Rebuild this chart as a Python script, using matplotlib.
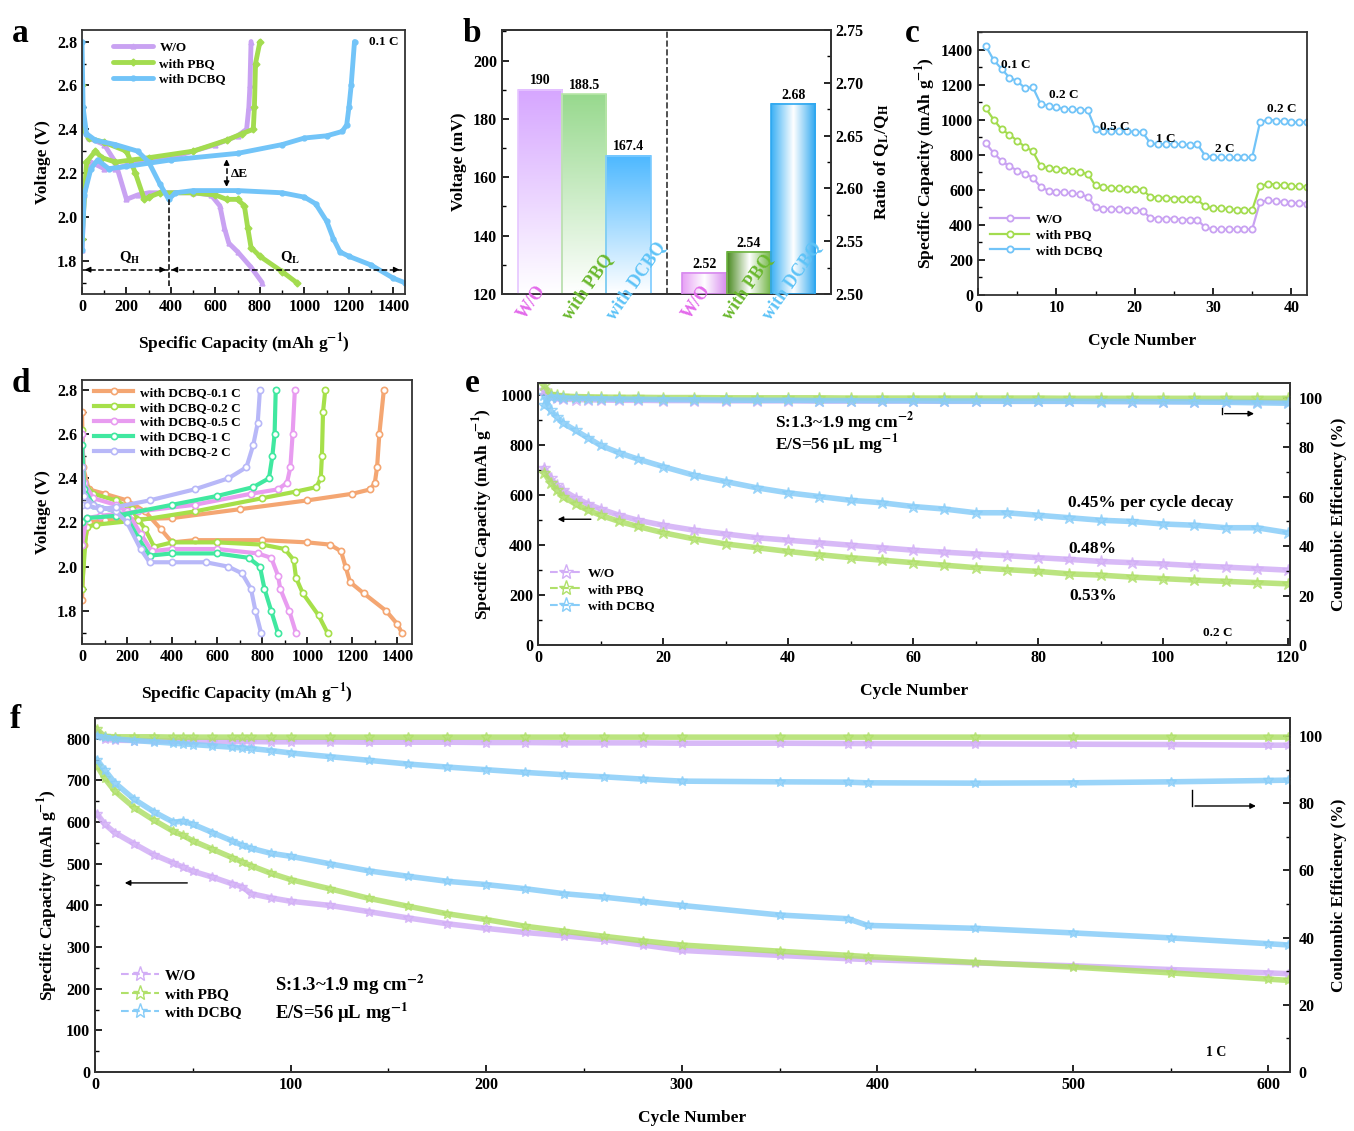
import numpy as np
import matplotlib.pyplot as plt
from matplotlib.ticker import MultipleLocator
from matplotlib.colors import LinearSegmentedColormap
from matplotlib.lines import Line2D
import matplotlib.transforms as mtransforms

plt.rcParams['font.family'] = ['Liberation Serif', 'DejaVu Serif']
plt.rcParams['font.weight'] = 'bold'
plt.rcParams['axes.labelweight'] = 'bold'
plt.rcParams['mathtext.fontset'] = 'stix'
plt.rcParams['axes.linewidth'] = 1.3
plt.rcParams['axes.edgecolor'] = '#333333'

# colores
PUR = '#C9A2F2'
GRN = '#A3DC4F'
BLU = '#72C4F8'

# ---------------- datos panel a (capacidad mAh/g, voltaje V) ----------------
a_wo_dis_x = [0, 30, 100, 150, 200, 250, 300, 400, 500, 580, 620, 640, 660, 700, 760, 810]
a_wo_dis_v = [2.42, 2.36, 2.33, 2.25, 2.08, 2.10, 2.11, 2.11, 2.11, 2.10, 2.05, 1.95, 1.88, 1.84, 1.77, 1.70]
a_wo_chg_x = [0, 10, 40, 100, 150, 250, 400, 600, 700, 740, 750, 755, 760]
a_wo_chg_v = [1.85, 2.10, 2.25, 2.22, 2.22, 2.25, 2.27, 2.33, 2.37, 2.40, 2.50, 2.60, 2.80]
a_pbq_dis_x = [0, 5, 30, 100, 200, 240, 280, 300, 350, 500, 600, 650, 700, 730, 745, 760, 800, 900, 965]
a_pbq_dis_v = [2.60, 2.40, 2.36, 2.34, 2.30, 2.20, 2.08, 2.09, 2.11, 2.11, 2.10, 2.08, 2.08, 2.05, 1.95, 1.86, 1.82, 1.75, 1.70]
a_pbq_chg_x = [0, 20, 60, 90, 150, 300, 500, 650, 720, 770, 775, 780, 800]
a_pbq_chg_v = [1.90, 2.25, 2.30, 2.27, 2.25, 2.27, 2.30, 2.35, 2.38, 2.40, 2.50, 2.70, 2.80]
a_dcbq_dis_x = [0, 5, 20, 60, 150, 250, 300, 350, 390, 420, 500, 700, 900, 1000, 1050, 1100, 1130, 1160, 1200, 1300, 1400, 1450]
a_dcbq_dis_v = [2.80, 2.50, 2.38, 2.35, 2.33, 2.30, 2.25, 2.15, 2.08, 2.11, 2.12, 2.12, 2.11, 2.09, 2.06, 1.98, 1.90, 1.84, 1.82, 1.78, 1.72, 1.70]
a_dcbq_chg_x = [0, 10, 40, 70, 120, 200, 400, 700, 900, 1000, 1100, 1170, 1190, 1200, 1210, 1225]
a_dcbq_chg_v = [1.85, 2.10, 2.22, 2.26, 2.22, 2.23, 2.26, 2.29, 2.33, 2.36, 2.37, 2.39, 2.42, 2.50, 2.60, 2.80]

# ---------------- datos panel b ----------------
b_labels = ['W/O', 'with PBQ', 'with DCBQ']
b_dE = [190, 188.5, 167.4]
b_ratio = [2.52, 2.54, 2.68]
b_label_colors = ['#E36BEB', '#6AB82E', '#5EC3F7']

# ---------------- datos panel c (capacidad de tasa) ----------------
c_cycle = list(range(1, 43))
c_dcbq = [1420, 1340, 1290, 1240, 1220, 1180, 1185, 1090, 1080, 1070, 1060, 1060, 1055, 1055,
          945, 935, 935, 935, 935, 930, 930, 865, 860, 860, 860, 860, 855, 860,
          795, 785, 785, 785, 785, 785, 785, 985, 1000, 995, 990, 985, 985, 985]
c_pbq = [1065, 1000, 945, 915, 880, 845, 820, 735, 725, 720, 715, 710, 700, 690,
         625, 615, 610, 610, 605, 605, 600, 560, 555, 555, 550, 550, 545, 545,
         505, 495, 495, 490, 485, 485, 485, 620, 635, 630, 625, 620, 620, 615]
c_wo = [865, 810, 765, 735, 710, 690, 670, 615, 595, 590, 585, 580, 575, 560,
        500, 490, 490, 490, 485, 485, 480, 440, 435, 435, 435, 430, 430, 430,
        385, 375, 375, 375, 375, 375, 375, 530, 540, 535, 530, 525, 525, 520]
c_rates = ['0.1 C', '0.2 C', '0.5 C', '1 C', '2 C', '0.2 C']
c_rate_x = [4.8, 11.0, 17.5, 24.0, 31.5, 38.8]
c_rate_y = [1310, 1140, 960, 890, 830, 1060]

# ---------------- datos panel d (DCBQ a distintas tasas) ----------------
d_rates = ['with DCBQ-0.1 C', 'with DCBQ-0.2 C', 'with DCBQ-0.5 C', 'with DCBQ-1 C', 'with DCBQ-2 C']
d_colors = ['#F4A672', '#A6E04A', '#E89CF0', '#40E8A0', '#B8B8F8']
d_dis_x = [
    [0, 5, 30, 100, 200, 280, 350, 400, 500, 800, 1000, 1100, 1150, 1170, 1190, 1250, 1350, 1400, 1420],
    [0, 10, 50, 150, 220, 280, 320, 400, 600, 800, 900, 940, 950, 980, 1050, 1090],
    [0, 10, 50, 150, 200, 260, 310, 400, 600, 780, 840, 870, 880, 920, 950],
    [0, 10, 50, 150, 200, 250, 300, 400, 600, 740, 790, 810, 840, 870],
    [0, 10, 50, 150, 200, 260, 300, 400, 550, 650, 710, 750, 770, 795],
]
d_dis_v = [
    [2.70, 2.45, 2.35, 2.33, 2.30, 2.25, 2.17, 2.11, 2.12, 2.12, 2.11, 2.10, 2.07, 2.00, 1.93, 1.88, 1.80, 1.74, 1.70],
    [2.62, 2.38, 2.33, 2.30, 2.26, 2.17, 2.09, 2.11, 2.11, 2.10, 2.08, 2.03, 1.95, 1.88, 1.78, 1.70],
    [2.60, 2.38, 2.31, 2.28, 2.25, 2.15, 2.07, 2.08, 2.08, 2.06, 2.04, 1.96, 1.90, 1.80, 1.70],
    [2.55, 2.35, 2.28, 2.25, 2.22, 2.13, 2.05, 2.06, 2.06, 2.04, 2.00, 1.90, 1.80, 1.70],
    [2.45, 2.32, 2.28, 2.25, 2.20, 2.08, 2.02, 2.02, 2.02, 2.00, 1.97, 1.90, 1.80, 1.70],
]
d_chg_x = [
    [0, 10, 30, 100, 400, 700, 1000, 1200, 1280, 1300, 1310, 1320, 1340],
    [0, 20, 60, 250, 500, 800, 950, 1040, 1060, 1065, 1070, 1080],
    [0, 20, 80, 250, 500, 750, 870, 910, 925, 935, 945],
    [0, 20, 150, 400, 600, 760, 830, 845, 855, 860],
    [0, 20, 80, 150, 300, 500, 650, 730, 760, 780, 790],
]
d_chg_v = [
    [1.85, 2.10, 2.20, 2.21, 2.22, 2.26, 2.30, 2.33, 2.35, 2.38, 2.45, 2.60, 2.80],
    [1.90, 2.18, 2.19, 2.21, 2.25, 2.31, 2.34, 2.36, 2.40, 2.50, 2.70, 2.80],
    [2.10, 2.22, 2.23, 2.25, 2.28, 2.33, 2.35, 2.38, 2.45, 2.60, 2.80],
    [2.20, 2.22, 2.23, 2.28, 2.32, 2.36, 2.40, 2.50, 2.60, 2.80],
    [2.28, 2.28, 2.26, 2.27, 2.30, 2.35, 2.40, 2.45, 2.55, 2.65, 2.80],
]

# ---------------- datos panel e (0.2 C, 120 ciclos) ----------------
e_cyc = [1, 2, 3, 4, 6, 8, 10, 13, 16, 20, 25, 30, 35, 40, 45, 50, 55, 60, 65, 70,
         75, 80, 85, 90, 95, 100, 105, 110, 115, 120]
e_cap_dcbq = [1000, 940, 915, 890, 860, 830, 800, 770, 745, 715, 680, 655, 630, 610, 595,
              580, 570, 555, 545, 530, 530, 520, 510, 500, 495, 485, 480, 470, 470, 450]
e_cap_wo = [710, 670, 640, 620, 590, 565, 545, 520, 500, 480, 460, 445, 430, 420, 410,
            400, 390, 380, 372, 365, 358, 350, 343, 335, 330, 325, 318, 312, 306, 300]
e_cap_pbq = [690, 650, 620, 595, 565, 540, 520, 495, 475, 450, 425, 405, 390, 375, 362,
             350, 340, 330, 320, 310, 302, 295, 285, 280, 272, 266, 260, 255, 250, 245]
e_ce_wo = [103, 100.5, 99.8, 99.5, 99.3, 99.2, 99.1, 99.0, 99.0, 98.9, 98.9, 98.8, 98.8, 98.8, 98.7,
           98.7, 98.7, 98.7, 98.6, 98.6, 98.6, 98.6, 98.6, 98.6, 98.5, 98.5, 98.5, 98.5, 98.5, 98.4]
e_ce_pbq = [105, 101.5, 101, 100.7, 100.5, 100.4, 100.3, 100.2, 100.2, 100.1, 100.1, 100.0, 100.0, 100.0, 100.0,
            99.9, 99.9, 99.9, 99.9, 99.9, 99.9, 99.9, 99.8, 99.8, 99.8, 99.8, 99.8, 99.8, 99.8, 99.8]
e_ce_dcbq = [97, 100.5, 100.2, 100.0, 99.8, 99.7, 99.6, 99.5, 99.4, 99.3, 99.2, 99.1, 99.0, 99.0, 98.9,
             98.9, 98.8, 98.8, 98.7, 98.7, 98.6, 98.6, 98.6, 98.5, 98.5, 98.4, 98.3, 98.2, 98.0, 97.8]

# ---------------- datos panel f (1 C, 610 ciclos) ----------------
f_cyc = [1, 5, 10, 20, 30, 40, 45, 50, 60, 70, 75, 80, 90, 100, 120, 140, 160, 180, 200, 220,
         240, 260, 280, 300, 350, 385, 395, 450, 500, 550, 600, 610]
f_cap_wo = [620, 595, 575, 548, 522, 502, 492, 482, 468, 452, 445, 428, 418, 410, 400, 385,
            370, 356, 345, 335, 327, 318, 305, 292, 280, 272, 270, 262, 255, 246, 238, 236]
f_cap_pbq = [735, 705, 675, 635, 605, 578, 568, 555, 535, 515, 505, 495, 477, 462, 440, 417,
             398, 380, 366, 350, 338, 326, 315, 305, 290, 280, 277, 263, 252, 238, 223, 220]
f_cap_dcbq = [750, 725, 695, 655, 625, 600, 602, 595, 575, 555, 545, 537, 525, 518, 500, 483,
              470, 458, 450, 440, 428, 420, 410, 400, 377, 368, 352, 345, 334, 322, 308, 305]
f_ce_wo = [101, 99.0, 98.8, 98.7, 98.6, 98.5, 98.5, 98.5, 98.4, 98.4, 98.4, 98.4, 98.3, 98.3, 98.3, 98.2,
           98.2, 98.2, 98.1, 98.1, 98.0, 98.0, 98.0, 97.9, 97.9, 97.8, 97.8, 97.7, 97.6, 97.5, 97.3, 97.3]
f_ce_pbq = [102, 99.9, 99.8, 99.8, 99.8, 99.7, 99.7, 99.7, 99.7, 99.7, 99.7, 99.7, 99.7, 99.7, 99.7, 99.7,
            99.7, 99.7, 99.7, 99.7, 99.7, 99.7, 99.7, 99.7, 99.7, 99.7, 99.7, 99.7, 99.7, 99.7, 99.7, 99.7]
f_ce_dcbq = [100, 99.6, 99.2, 98.7, 98.3, 97.9, 97.7, 97.5, 97.1, 96.7, 96.5, 96.3, 95.7, 95.0, 93.9, 92.8,
             91.7, 90.8, 90.0, 89.2, 88.5, 87.9, 87.2, 86.6, 86.4, 86.3, 86.1, 86.0, 86.1, 86.4, 86.8, 86.9]

# ---------------- figura ----------------
W, H = 1354, 1131
fig = plt.figure(figsize=(W / 100, H / 100), dpi=100)


def rect(l, t, r, b):
    return [l / W, 1 - b / H, (r - l) / W, (b - t) / H]


def style(ax, left=True, right=False):
    ax.tick_params(direction='in', which='both', top=False, right=right, left=left, labelsize=11.5)
    ax.tick_params(which='major', length=5, width=1.2)
    ax.tick_params(which='minor', length=3, width=1.0)
    for lab in ax.get_xticklabels() + ax.get_yticklabels():
        lab.set_fontweight('bold')


cap_label = 'Specific Capacity (mAh g$^{\\mathbf{-1}}$)'
LFS = 12.5

# ---------- a ----------
ax = fig.add_axes(rect(82, 30, 405, 294))
for xs, vs, xc, vc, col, lab, mk in [
        (a_wo_dis_x, a_wo_dis_v, a_wo_chg_x, a_wo_chg_v, PUR, 'W/O', '^'),
        (a_pbq_dis_x, a_pbq_dis_v, a_pbq_chg_x, a_pbq_chg_v, GRN, 'with PBQ', 'D'),
        (a_dcbq_dis_x, a_dcbq_dis_v, a_dcbq_chg_x, a_dcbq_chg_v, BLU, 'with DCBQ', 'o')]:
    ax.plot(xs, vs, color=col, lw=3.5, marker=mk, ms=3.5, label=lab, solid_capstyle='round')
    ax.plot(xc, vc, color=col, lw=3.5, marker=mk, ms=3.5, solid_capstyle='round')
ax.set_xlim(0, 1452)
ax.set_ylim(1.648, 2.853)
ax.xaxis.set_major_locator(MultipleLocator(200))
ax.xaxis.set_minor_locator(MultipleLocator(100))
ax.set_yticks([1.8, 2.0, 2.2, 2.4, 2.6, 2.8])
ax.set_yticklabels(['1.8', '2.0', '2.2', '2.4', '2.6', '2.8'])
ax.yaxis.set_minor_locator(MultipleLocator(0.1))
# anotaciones QH / QL / dE
ax.plot([0, 1440], [1.759, 1.759], 'k--', lw=1.1)
ax.plot([390, 390], [1.685, 2.08], 'k--', lw=1.1)
for x0, x1 in [(40, 0), (350, 390), (430, 390), (1400, 1440)]:
    ax.annotate('', xy=(x1, 1.759), xytext=(x0, 1.759),
                arrowprops=dict(arrowstyle='-|>', color='k', lw=1, mutation_scale=8))
ax.plot([650, 650], [2.16, 2.24], 'k--', lw=1.1)
ax.annotate('', xy=(650, 2.276), xytext=(650, 2.23),
            arrowprops=dict(arrowstyle='-|>', color='k', lw=1, mutation_scale=8))
ax.annotate('', xy=(650, 2.124), xytext=(650, 2.17),
            arrowprops=dict(arrowstyle='-|>', color='k', lw=1, mutation_scale=8))
ax.text(670, 2.197, 'ΔE', fontsize=9.5, va='center')
ax.text(215, 1.775, 'Q$_{\\mathbf{H}}$', fontsize=10.5, ha='center', va='bottom')
ax.text(935, 1.775, 'Q$_{\\mathbf{L}}$', fontsize=10.5, ha='center', va='bottom')
ax.text(1425, 2.80, '0.1 C', fontsize=9.5, ha='right', va='center')
ax.legend(loc='upper left', bbox_to_anchor=(0.06, 1.0), frameon=False, fontsize=9.5,
          handlelength=3, handletextpad=0.5, labelspacing=0.25)
ax.set_xlabel(cap_label, fontsize=LFS, labelpad=12)
ax.set_ylabel('Voltage (V)', fontsize=LFS, labelpad=4)
style(ax)
fig.text(12 / W, 1 - 42 / H, 'a', fontsize=24, fontweight='bold')

# ---------- b ----------
ax = fig.add_axes(rect(502, 30, 831, 294))
ax2 = ax.twinx()
left_pos = [0.85, 1.85, 2.85]
right_pos = [4.55, 5.55, 6.55]
bw = 1.0
top_cols = ['#D6A6FF', '#98D98E', '#4DB8FF']
edge_l = ['#E6C6FF', '#B8E6A8', '#7CCBFF']
cyl_cols = [('#E7A0F5', '#D88BEF'), ('#4A8A20', '#6DB33F'), ('#3BB0F5', '#2FA8F0')]
for i, (x, v) in enumerate(zip(left_pos, b_dE)):
    cm = LinearSegmentedColormap.from_list('g', ['#FFFFFF', top_cols[i]])
    grad = np.linspace(0, 1, 200).reshape(-1, 1)
    ax.imshow(grad, extent=(x - bw / 2, x + bw / 2, 120, v), origin='lower', cmap=cm,
              aspect='auto', zorder=2)
    ax.bar(x, v - 120, bottom=120, width=bw, facecolor='none', edgecolor=edge_l[i], lw=1.2, zorder=3)
    ax.text(x, v + 0.8, f'{v:g}', ha='center', va='bottom', fontsize=10)
for i, (x, v) in enumerate(zip(right_pos, b_ratio)):
    cm = LinearSegmentedColormap.from_list('c', [cyl_cols[i][0], '#FFFFFF', cyl_cols[i][1]])
    grad = np.linspace(0, 1, 200).reshape(1, -1)
    ax2.imshow(grad, extent=(x - bw / 2, x + bw / 2, 2.5, v), origin='lower', cmap=cm,
               aspect='auto', zorder=2)
    ax2.bar(x, v - 2.5, bottom=2.5, width=bw, facecolor='none', edgecolor=cyl_cols[i][1], lw=1.2, zorder=3)
    ax2.text(x, v + 0.002, f'{v:.2f}', ha='center', va='bottom', fontsize=10)
ax.axvline(3.7, color='#333333', ls='--', lw=1.2)
ax.set_xlim(0, 7.4)
ax.set_ylim(120, 210.5)
ax2.set_xlim(0, 7.4)
ax2.set_ylim(2.5, 2.75)
ax.yaxis.set_major_locator(MultipleLocator(20))
ax.yaxis.set_minor_locator(MultipleLocator(10))
ax2.yaxis.set_major_locator(MultipleLocator(0.05))
ax2.yaxis.set_minor_locator(MultipleLocator(0.025))
ax.set_xticks([])
ax2.set_xticks([])
# etiquetas giradas encima de las barras (en el eje gemelo, que queda arriba)
trans = mtransforms.blended_transform_factory(ax2.transData, ax2.transAxes)
for grp, shift in ((left_pos, 0.0), (right_pos, 0.1)):
    for i, x in enumerate(grp):
        ax2.text(x - 0.42 - shift * i, -0.09, b_labels[i], transform=trans,
                 rotation=55, rotation_mode='anchor', ha='left', va='center',
                 color=b_label_colors[i], fontsize=13, fontweight='bold', zorder=6, clip_on=False)
ax.set_ylabel('Voltage (mV)', fontsize=LFS, labelpad=4)
ax2.set_ylabel('Ratio of Q$_{\\mathbf{L}}$/Q$_{\\mathbf{H}}$', fontsize=LFS, labelpad=6)
style(ax)
ax2.tick_params(direction='in', which='both', labelsize=11.5)
ax2.tick_params(which='major', length=5, width=1.2)
ax2.tick_params(which='minor', length=3, width=1.0)
for lab in ax2.get_yticklabels():
    lab.set_fontweight('bold')
fig.text(463 / W, 1 - 42 / H, 'b', fontsize=24, fontweight='bold')

# ---------- c ----------
ax = fig.add_axes(rect(978, 32, 1307, 295))
for ys, col, lab in [(c_wo, PUR, 'W/O'), (c_pbq, GRN, 'with PBQ'), (c_dcbq, BLU, 'with DCBQ')]:
    ax.plot(c_cycle, ys, color=col, lw=1.6, marker='o', ms=4.5, mfc='white', mec=col, mew=1.3, label=lab)
for t, x, y in zip(c_rates, c_rate_x, c_rate_y):
    ax.text(x, y, t, fontsize=9.5, ha='center', va='center')
ax.set_xlim(0, 42)
ax.set_ylim(0, 1500)
ax.xaxis.set_major_locator(MultipleLocator(10))
ax.xaxis.set_minor_locator(MultipleLocator(5))
ax.yaxis.set_minor_locator(MultipleLocator(100))
ax.set_yticks(range(0, 1401, 200))
ax.legend(loc='lower left', bbox_to_anchor=(0.0, 0.1), frameon=False, fontsize=9.5,
          handlelength=3, handletextpad=0.5, labelspacing=0.25)
ax.set_xlabel('Cycle Number', fontsize=LFS, labelpad=12)
ax.set_ylabel(cap_label, fontsize=LFS, labelpad=2)
style(ax)
fig.text(905 / W, 1 - 42 / H, 'c', fontsize=24, fontweight='bold')

# ---------- d ----------
ax = fig.add_axes(rect(82, 380, 412, 644))
for i in range(5):
    ax.plot(d_dis_x[i], d_dis_v[i], color=d_colors[i], lw=3, marker='o', ms=4.5, mfc='white',
            mec=d_colors[i], mew=1.2, label=d_rates[i])
    ax.plot(d_chg_x[i], d_chg_v[i], color=d_colors[i], lw=3, marker='o', ms=4.5, mfc='white',
            mec=d_colors[i], mew=1.2)
ax.set_xlim(0, 1465)
ax.set_ylim(1.65, 2.845)
ax.xaxis.set_major_locator(MultipleLocator(200))
ax.xaxis.set_minor_locator(MultipleLocator(100))
ax.set_yticks([1.8, 2.0, 2.2, 2.4, 2.6, 2.8])
ax.set_yticklabels(['1.8', '2.0', '2.2', '2.4', '2.6', '2.8'])
ax.yaxis.set_minor_locator(MultipleLocator(0.1))
ax.legend(loc='upper left', bbox_to_anchor=(0.0, 1.02), frameon=False, fontsize=9.5,
          handlelength=3, handletextpad=0.5, labelspacing=0.2)
ax.set_xlabel(cap_label, fontsize=LFS, labelpad=12)
ax.set_ylabel('Voltage (V)', fontsize=LFS, labelpad=4)
style(ax)
fig.text(12 / W, 1 - 392 / H, 'd', fontsize=24, fontweight='bold')


# ---------- e y f (ciclado largo) ----------
def cycling(ax, cyc, caps, ces, ylim, ylim2, xlim, xmaj, xmin, ymaj, ymin, ms):
    ax2 = ax.twinx()
    handles = []
    cols = ['#D2AEF6', '#B0E06A', '#88CDF8']
    labs = ['W/O', 'with PBQ', 'with DCBQ']
    for cap, ce, col, lab in zip(caps, ces, cols, labs):
        ax.plot(cyc, cap, color=col, lw=4, alpha=0.85, marker='*', ms=ms, mfc='none', mec=col, mew=1.0)
        ax2.plot(cyc, ce, color=col, lw=4, alpha=0.85, marker='*', ms=ms, mfc='none', mec=col, mew=1.0)
        handles.append(Line2D([], [], color=col, lw=1.5, ls='--', marker='*', ms=11, mfc='none', mec=col,
                              label=lab))
    ax.set_xlim(*xlim)
    ax.set_ylim(*ylim)
    ax2.set_ylim(*ylim2)
    ax.xaxis.set_major_locator(MultipleLocator(xmaj))
    ax.xaxis.set_minor_locator(MultipleLocator(xmin))
    ax.yaxis.set_major_locator(MultipleLocator(ymaj))
    ax.yaxis.set_minor_locator(MultipleLocator(ymin))
    ax2.yaxis.set_major_locator(MultipleLocator(20))
    ax2.yaxis.set_minor_locator(MultipleLocator(10))
    style(ax)
    ax2.tick_params(direction='in', which='both', labelsize=11.5, pad=6)
    ax2.tick_params(which='major', length=5, width=1.2)
    ax2.tick_params(which='minor', length=3, width=1.0)
    for lab in ax2.get_yticklabels():
        lab.set_fontweight('bold')
    ax2.set_ylabel('Coulombic Efficiency (%)', fontsize=LFS, labelpad=6)
    ax.set_xlabel('Cycle Number', fontsize=LFS, labelpad=12)
    ax.set_ylabel(cap_label, fontsize=LFS, labelpad=4)
    return ax2, handles


ax = fig.add_axes(rect(538, 383, 1290, 645))
ax2, hs = cycling(ax, e_cyc, [e_cap_wo, e_cap_pbq, e_cap_dcbq], [e_ce_wo, e_ce_pbq, e_ce_dcbq],
                  (0, 1050), (0, 106), (0, 120.3), 20, 10, 200, 100, 9)
ax.legend(handles=hs, loc='lower left', bbox_to_anchor=(0.0, 0.08), frameon=False, fontsize=9.5,
          handlelength=2.5, handletextpad=0.4, labelspacing=0.3)
ax.text(37.9, 893, 'S:1.3~1.9 mg cm$^{\\mathbf{-2}}$', fontsize=12.5, va='center')
ax.text(37.9, 802, 'E/S=56 μL mg$^{\\mathbf{-1}}$', fontsize=12.5, va='center')
ax.text(84.8, 571, '0.45% per cycle decay', fontsize=12.5, va='center')
ax.text(84.8, 385, '0.48%', fontsize=12.5, va='center')
ax.text(85.0, 198, '0.53%', fontsize=12.5, va='center')
ax.text(106.4, 48, '0.2 C', fontsize=9.5, va='center')
ax.annotate('', xy=(2.7, 504), xytext=(8.9, 504),
            arrowprops=dict(arrowstyle='-|>', color='k', lw=1, mutation_scale=8))
ax2.plot([109.4, 109.4], [93.6, 96], color='k', lw=1)
ax2.annotate('', xy=(115, 93.6), xytext=(109.4, 93.6),
             arrowprops=dict(arrowstyle='-|>', color='k', lw=1, mutation_scale=8))
fig.text(465 / W, 1 - 392 / H, 'e', fontsize=24, fontweight='bold')

ax = fig.add_axes(rect(95, 718, 1290, 1072))
ax2, hs = cycling(ax, f_cyc, [f_cap_wo, f_cap_pbq, f_cap_dcbq], [f_ce_wo, f_ce_pbq, f_ce_dcbq],
                  (0, 850), (0, 105.4), (0, 611), 100, 50, 100, 50, 7)
ax.legend(handles=hs, loc='lower left', bbox_to_anchor=(0.01, 0.11), frameon=False, fontsize=11,
          handlelength=2.5, handletextpad=0.4, labelspacing=0.3)
ax.text(92, 209, 'S:1.3~1.9 mg cm$^{\\mathbf{-2}}$', fontsize=13.5, va='center')
ax.text(92, 142, 'E/S=56 μL mg$^{\\mathbf{-1}}$', fontsize=13.5, va='center')
ax.text(568, 48, '1 C', fontsize=10, va='center')
ax.annotate('', xy=(13.8, 454), xytext=(48.6, 454),
            arrowprops=dict(arrowstyle='-|>', color='k', lw=1, mutation_scale=8))
ax2.plot([561, 561], [79.2, 84], color='k', lw=1)
ax2.annotate('', xy=(595, 79.2), xytext=(561, 79.2),
             arrowprops=dict(arrowstyle='-|>', color='k', lw=1, mutation_scale=8))
fig.text(10 / W, 1 - 728 / H, 'f', fontsize=24, fontweight='bold')

fig.savefig('out.png', dpi=100)
